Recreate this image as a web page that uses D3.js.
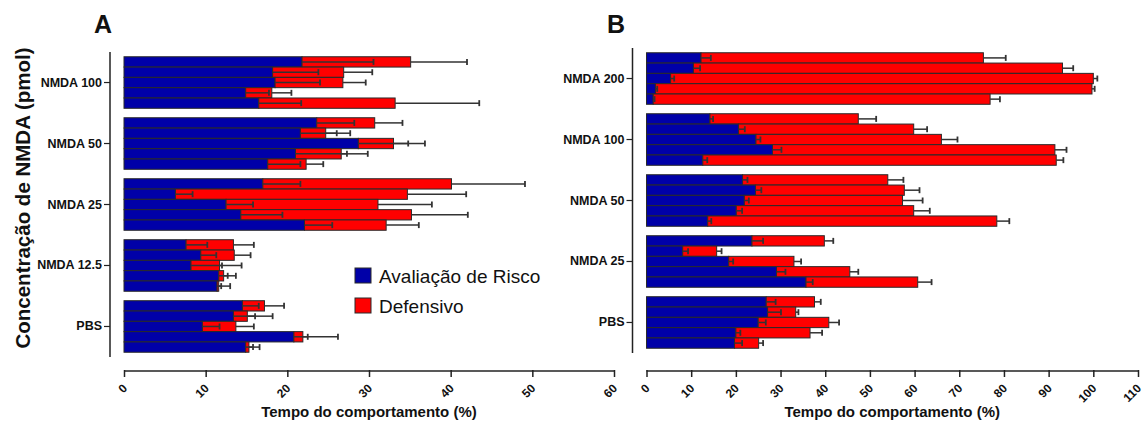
<!DOCTYPE html>
<html><head><meta charset="utf-8">
<script src="https://cdn.jsdelivr.net/npm/d3@7"></script>
<style>body{margin:0;background:#fff}svg{display:block}text{font-family:"Liberation Sans",Arial,sans-serif}</style>
</head><body>
<svg id="c" width="1145" height="426"></svg>
<script>
// ---------- Data ----------
const seriesNames = ["Avaliação de Risco", "Defensivo"];
const categoriesA = ["NMDA 100", "NMDA 50", "NMDA 25", "NMDA 12.5", "PBS"];
const categoriesB = ["NMDA 200", "NMDA 100", "NMDA 50", "NMDA 25", "PBS"];
const ticksA = [0, 10, 20, 30, 40, 50, 60];
const ticksB = [0, 10, 20, 30, 40, 50, 60, 70, 80, 90, 100, 110];

// Panel A (rows top to bottom inside each group)
const riskA = [
  [21.8, 18.2, 18.5, 14.9, 16.5],
  [23.6, 21.6, 28.7, 21.0, 17.6],
  [17.0, 6.3, 12.5, 14.3, 22.1],
  [7.6, 9.4, 8.2, 11.6, 11.4],
  [14.5, 13.4, 9.6, 20.8, 14.9]
];
const defA = [
  [13.3, 8.7, 8.3, 3.2, 16.7],
  [7.1, 3.1, 4.3, 5.6, 4.7],
  [23.1, 28.4, 18.6, 20.9, 10.0],
  [5.8, 4.1, 3.5, 0.6, 0.2],
  [2.7, 1.7, 4.1, 1.1, 0.4]
];
const riskErrA = [
  [8.75, 5.6, 5.5, 2.85, 5.2],
  [4.6, 4.45, 6.1, 6.3, 4.0],
  [4.6, 2.1, 3.3, 5.1, 3.4],
  [2.6, 1.9, 3.8, 1.1, 0.5],
  [2.0, 2.65, 2.1, 1.7, 0.9]
];
const defErrA = [
  [6.9, 3.5, 2.8, 2.4, 10.3],
  [3.4, 3.0, 3.85, 3.25, 2.1],
  [9.0, 7.2, 6.6, 6.9, 4.0],
  [2.5, 2.0, 2.7, 1.5, 1.4],
  [2.4, 3.1, 2.2, 4.3, 1.3]
];

// Panel B
const riskB = [
  [12.2, 10.5, 5.4, 2.0, 1.5],
  [14.2, 20.6, 24.5, 28.2, 12.6],
  [21.5, 24.4, 21.9, 20.1, 13.7],
  [23.6, 8.1, 18.4, 29.1, 35.7],
  [26.8, 27.1, 25.0, 20.0, 19.7]
];
const defB = [
  [63.2, 82.6, 94.6, 97.7, 75.4],
  [33.2, 39.2, 41.5, 63.2, 79.1],
  [32.5, 33.3, 35.4, 39.7, 64.7],
  [16.2, 7.6, 14.6, 16.4, 25.0],
  [10.8, 6.3, 15.8, 16.6, 5.4]
];
const riskErrB = [
  [2.2, 1.5, 0.8, 0.4, 0.3],
  [0.7, 1.4, 1.0, 2.0, 1.0],
  [1.1, 1.3, 1.0, 1.3, 0.8],
  [2.5, 1.2, 1.0, 2.0, 1.5],
  [2.1, 3.0, 1.7, 1.0, 1.7]
];
const defErrB = [
  [5.0, 2.4, 0.9, 0.6, 2.2],
  [4.0, 3.0, 3.6, 2.6, 1.6],
  [3.5, 3.4, 4.5, 3.6, 2.8],
  [2.0, 1.1, 1.6, 1.9, 3.1],
  [1.4, 0.6, 2.3, 2.7, 1.0]
];

// ---------- Drawing ----------
const BLUE = "#0000a8", RED = "#ff0000", OUT = "#2a2a2a", ERR = "#333";
const svg = d3.select("#c");

function panel(o) {
  const g = svg.append("g");
  const x = d3.scaleLinear().domain(o.domain).range([o.x0, o.x1]);
  const y = d3.scaleBand().domain(o.cats).range([o.yTop, o.yBot]).paddingInner(0.155).paddingOuter(0.078);
  const inner = d3.scaleBand().domain(d3.range(5)).range([0, y.bandwidth()]);

  // bars
  o.cats.forEach((c, gi) => {
    const gg = g.append("g").attr("transform", `translate(0,${y(c)})`);
    d3.range(5).forEach(i => {
      const r = o.risk[gi][i], d = o.def[gi][i];
      const yy = inner(i), h = inner.bandwidth();
      gg.append("rect").attr("x", x(0)).attr("y", yy).attr("width", x(r) - x(0)).attr("height", h)
        .attr("fill", BLUE).attr("stroke", OUT).attr("stroke-width", 1);
      gg.append("rect").attr("x", x(r)).attr("y", yy).attr("width", x(r + d) - x(r)).attr("height", h)
        .attr("fill", RED).attr("stroke", OUT).attr("stroke-width", 1);
    });
    d3.range(5).forEach(i => {
      const r = o.risk[gi][i], d = o.def[gi][i];
      const cy = inner(i) + inner.bandwidth() / 2;
      const errs = [[r, o.riskErr[gi][i]], [r + d, o.defErr[gi][i]]];
      errs.forEach(([v, e]) => {
        gg.append("line").attr("x1", x(v)).attr("x2", x(v + e)).attr("y1", cy).attr("y2", cy)
          .attr("stroke", ERR).attr("stroke-width", 1.5);
        gg.append("line").attr("x1", x(v + e)).attr("x2", x(v + e)).attr("y1", cy - 3).attr("y2", cy + 3)
          .attr("stroke", ERR).attr("stroke-width", 1.8);
      });
    });
  });

  // y axis
  const ya = g.append("g").attr("transform", `translate(${o.yAxisX},0)`)
    .call(d3.axisLeft(y).tickSize(6).tickSizeOuter(0).tickPadding(2));
  ya.select(".domain").attr("d", `M0,${o.yTop}V${o.yBot}`).attr("stroke", "#222").attr("stroke-width", 1.5);
  ya.selectAll(".tick line").attr("stroke", "#222").attr("stroke-width", 1.2);
  ya.selectAll(".tick text").attr("font-size", 12.5).attr("font-weight", "bold").attr("fill", "#111");

  // x axis
  const xa = g.append("g").attr("transform", `translate(0,${o.xAxisY})`)
    .call(d3.axisBottom(x).tickValues(o.ticks).tickSize(6).tickSizeOuter(0).tickFormat(() => ""));
  xa.select(".domain").attr("d", `M${o.x0},0H${o.x1}`).attr("stroke", "#222").attr("stroke-width", 1.5);
  xa.selectAll(".tick line").attr("y1", -1).attr("y2", 6).attr("stroke", "#222").attr("stroke-width", 1.5);
  xa.selectAll(".tick text").remove();
  g.append("g").selectAll("text").data(o.ticks).join("text")
    .attr("transform", d => `translate(${x(d) + 1},${o.xAxisY + 15}) rotate(-45)`)
    .attr("text-anchor", "end").attr("dy", "0.35em")
    .attr("font-size", 12).attr("font-weight", "bold").attr("fill", "#111").text(d => d);

  g.append("text").attr("x", (o.x0 + o.x1) / 2).attr("y", 417).attr("text-anchor", "middle")
    .attr("font-size", 15).attr("font-weight", "bold").attr("fill", "#111").text("Tempo do comportamento (%)");
  g.append("text").attr("x", o.letterX).attr("y", 33).attr("font-size", 25).attr("font-weight", "bold")
    .attr("fill", "#111").text(o.letter);
}

panel({ cats: categoriesA, risk: riskA, def: defA, riskErr: riskErrA, defErr: defErrA,
  domain: [0, 60], ticks: ticksA, x0: 124, x1: 614, yTop: 52, yBot: 357, yAxisX: 110, xAxisY: 371,
  letter: "A", letterX: 94 });
panel({ cats: categoriesB, risk: riskB, def: defB, riskErr: riskErrB, defErr: defErrB,
  domain: [0, 110], ticks: ticksB, x0: 646.5, x1: 1138, yTop: 48, yBot: 353, yAxisX: 632.5, xAxisY: 371,
  letter: "B", letterX: 607 });

// y title
svg.append("text").attr("transform", "translate(30,198) rotate(-90)").attr("text-anchor", "middle")
  .attr("font-size", 20.5).attr("font-weight", "bold").attr("fill", "#111").text("Concentração de NMDA (pmol)");

// legend
const leg = svg.append("g");
[BLUE, RED].forEach((col, i) => {
  leg.append("rect").attr("x", 355).attr("y", 268 + i * 30).attr("width", 16).attr("height", 15)
    .attr("fill", col).attr("stroke", OUT).attr("stroke-width", 1);
  leg.append("text").attr("x", 379).attr("y", 283 + i * 30).attr("font-size", 19).attr("fill", "#111")
    .text(seriesNames[i]);
});
</script>
</body></html>
